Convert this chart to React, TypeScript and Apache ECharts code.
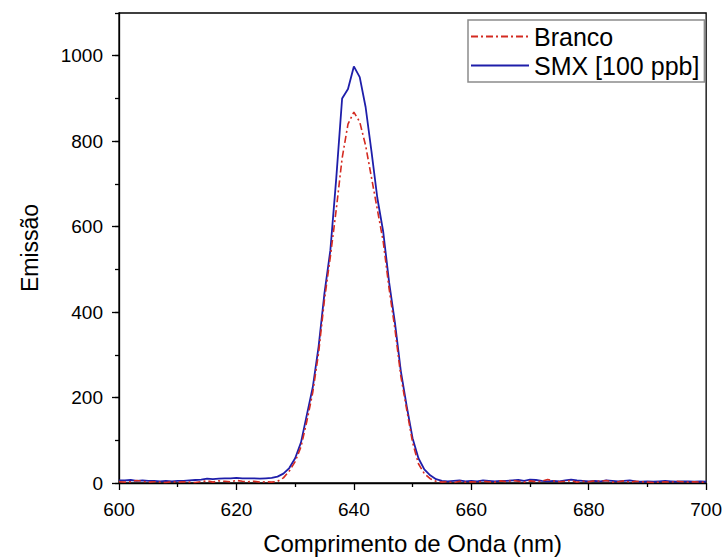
import React, { useEffect, useRef } from "react";
import * as echarts from "echarts";

const wavelengths: number[] = Array.from({ length: 101 }, (_, i) => 600 + i);

const branco: number[] = [
  3, 2, 3, 6, 4, 2, 3, 2, 1, 3,
  2, 3, 2, 1, 3, 5, 2, 5, 4, 3,
  6, 4, 3, 4, 2, 3, 2, 4, 12, 28,
  50, 85, 145, 212, 305, 430, 530, 640, 760, 840,
  868, 845, 790, 715, 640, 565, 455, 360, 250, 172,
  95, 45, 22, 10, 4, 2, 3, 1, 4, 2,
  3, 2, 4, 3, 2, 5, 3, 6, 4, 2,
  5, 3, 4, 8, 5, 3, 4, 6, 2, 4,
  3, 5, 4, 6, 2, 3, 5, 2, 4, 3,
  2, 1, 2, 3, 2, 4, 3, 2, 3, 2,
  2,
];

const smx: number[] = [
  6, 6, 7, 5, 6, 5, 5, 4, 5, 4,
  5, 5, 6, 7, 8, 10, 9, 10, 11, 11,
  12, 11, 11, 11, 10, 11, 12, 15, 22, 35,
  58, 95, 160, 224, 320, 445, 545, 713, 900, 922,
  975, 950, 880, 776, 667, 588, 470, 375, 262, 180,
  105, 58, 32, 18, 9, 5, 4, 5, 6, 4,
  5, 4, 6, 5, 4, 5, 5, 6, 7, 5,
  8, 7, 5, 4, 5, 4, 6, 8, 6, 5,
  4, 5, 4, 6, 5, 4, 5, 6, 4, 3,
  4, 3, 4, 5, 4, 3, 4, 4, 3, 4,
  3,
];

const seriesNames = ["Branco", "SMX [100 ppb]"];
const xTitle = "Comprimento de Onda (nm)";
const yTitle = "Emissão";

const FONT = "'Liberation Sans', Arial, sans-serif";

export default function App() {
  const ref = useRef<HTMLDivElement>(null);
  useEffect(() => {
    if (!ref.current) return;
    const chart = echarts.init(ref.current, undefined, { renderer: "svg" });
    const zip = (ys: number[]) => wavelengths.map((x, i) => [x, ys[i]]);
    chart.setOption({
      animation: false,
      backgroundColor: "#ffffff",
      textStyle: { fontFamily: FONT },
      grid: {
        left: 119,
        right: 18,
        top: 13,
        bottom: 73,
        show: true,
        borderColor: "#000",
        borderWidth: 1.3,
        backgroundColor: "transparent",
      },
      legend: {
        data: seriesNames,
        orient: "vertical",
        left: 468,
        top: 20,
        padding: [4, 5, 4, 2],
        itemWidth: 58,
        itemHeight: 14,
        itemGap: 4,
        borderColor: "#8c8c8c",
        borderWidth: 1.5,
        backgroundColor: "#fff",
        itemStyle: { opacity: 0 },
        textStyle: { fontFamily: FONT, fontSize: 25, color: "#000" },
      },
      xAxis: {
        type: "value",
        min: 600,
        max: 700,
        interval: 20,
        name: xTitle,
        nameLocation: "middle",
        nameGap: 48,
        nameTextStyle: { fontFamily: FONT, fontSize: 24, color: "#000" },
        axisLine: { show: true, lineStyle: { color: "#000", width: 1.3 } },
        axisTick: { show: true, inside: false, length: 7, lineStyle: { color: "#000", width: 1.3 } },
        minorTick: { show: true, splitNumber: 2, length: 4, lineStyle: { color: "#000", width: 1.3 } },
        axisLabel: { fontFamily: FONT, fontSize: 19, color: "#000", margin: 17 },
        splitLine: { show: false },
      },
      yAxis: [
        {
          type: "value",
          min: 0,
          max: 1100,
          interval: 200,
          name: yTitle,
          nameLocation: "middle",
          nameGap: 78,
          nameTextStyle: { fontFamily: FONT, fontSize: 23, color: "#000" },
          axisLine: { show: true, lineStyle: { color: "#000", width: 1.3 } },
          axisTick: { show: true, inside: false, length: 7, lineStyle: { color: "#000", width: 1.3 } },
          axisLabel: {
            fontFamily: FONT,
            fontSize: 19,
            color: "#000",
            margin: 16,
            showMaxLabel: false,
            formatter: (v: number) => (v > 1000 ? "" : String(v)),
          },
          splitLine: { show: false },
        },
        {
          type: "value",
          min: 0,
          max: 1100,
          interval: 100,
          position: "left",
          axisLine: { show: false },
          axisTick: { show: true, inside: false, length: 4, lineStyle: { color: "#000", width: 1.3 } },
          axisLabel: { show: false },
          splitLine: { show: false },
        },
      ],
      series: [
        {
          name: seriesNames[0],
          type: "line",
          data: zip(branco),
          symbol: "none",
          showSymbol: false,
          z: 3,
          color: "#d42a20",
          lineStyle: { color: "#d42a20", width: 1.6, type: [7, 3, 2, 3] },
        },
        {
          name: seriesNames[1],
          type: "line",
          data: zip(smx),
          symbol: "none",
          showSymbol: false,
          z: 2,
          color: "#1e1eaa",
          lineStyle: { color: "#1e1eaa", width: 1.8 },
        },
      ],
    });
    return () => chart.dispose();
  }, []);
  return (
    <div
      ref={ref}
      style={{ position: "absolute", left: 0, top: 0, width: 725, height: 560 }}
    />
  );
}
